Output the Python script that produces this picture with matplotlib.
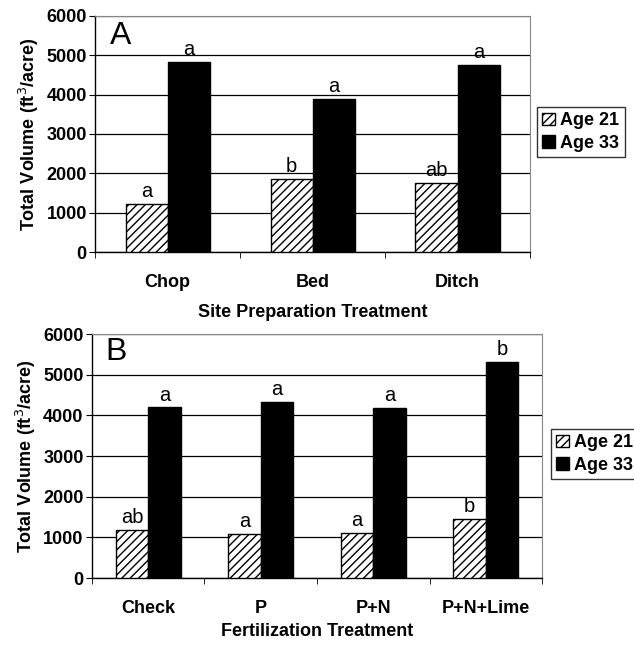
import matplotlib
matplotlib.use('Agg')
import matplotlib.pyplot as plt
import numpy as np
from matplotlib.patches import Patch

plt.rcParams['font.family'] = ['Liberation Sans', 'DejaVu Sans']
plt.rcParams['hatch.linewidth'] = 1.0

# panel A: site preparation
site_cats = ['Chop', 'Bed', 'Ditch']
site_age21 = [1220, 1860, 1750]
site_age33 = [4840, 3890, 4760]
site_lab21 = ['a', 'b', 'ab']
site_lab33 = ['a', 'a', 'a']

# panel B: fertilization
fert_cats = ['Check', 'P', 'P+N', 'P+N+Lime']
fert_age21 = [1180, 1080, 1110, 1450]
fert_age33 = [4200, 4330, 4180, 5310]
fert_lab21 = ['ab', 'a', 'a', 'b']
fert_lab33 = ['a', 'a', 'a', 'b']

series_names = ['Age 21', 'Age 33']
yticks = [0, 1000, 2000, 3000, 4000, 5000, 6000]


def panel(ax, cats, v21, v33, l21, l33, xlabel, letter, lpos, xlpad):
    x = np.arange(len(cats))
    w = 0.29
    ax.bar(x - w / 2, v21, w, color='white', edgecolor='black', hatch='////', linewidth=1.0, zorder=3)
    ax.bar(x + w / 2, v33, w, color='black', edgecolor='black', linewidth=1.0, zorder=3)
    for i in range(len(cats)):
        ax.annotate(l21[i], (x[i] - w / 2, v21[i]), xytext=(0, 2), textcoords='offset points',
                    ha='center', va='bottom', fontsize=14.5)
        ax.annotate(l33[i], (x[i] + w / 2, v33[i]), xytext=(0, 2), textcoords='offset points',
                    ha='center', va='bottom', fontsize=14.5)
    ax.set_xlim(-0.5, len(cats) - 0.5)
    ax.set_ylim(0, 6000)
    ax.set_yticks(yticks)
    ax.set_yticklabels([str(t) for t in yticks], fontsize=13, fontweight='bold')
    ax.set_xticks(x)
    ax.set_xticklabels(cats, fontsize=13, fontweight='bold')
    ax.set_xticks(np.arange(len(cats) + 1) - 0.5, minor=True)
    ax.tick_params(axis='x', which='major', length=0, pad=16)
    ax.tick_params(axis='x', which='minor', length=4, direction='out')
    ax.tick_params(axis='y', length=4, direction='out', pad=2)
    ax.yaxis.grid(True, color='black', linewidth=0.9, zorder=0)
    ax.set_axisbelow(True)
    for s in ['top', 'right']:
        ax.spines[s].set_color('#888888')
        ax.spines[s].set_linewidth(0.8)
    for s in ['left', 'bottom']:
        ax.spines[s].set_color('black')
        ax.spines[s].set_linewidth(1.0)
    ax.set_xlabel(xlabel, fontsize=13, fontweight='bold', labelpad=xlpad)
    ax.set_ylabel('Total Volume (ft$^3$/acre)', fontsize=13, fontweight='bold', labelpad=4)
    ax.text(lpos[0], lpos[1], letter, transform=ax.transAxes, fontsize=23, ha='left', va='center')


fig = plt.figure(figsize=(6.34, 6.47), dpi=100)
axA = fig.add_axes([0.150, 0.6105, 0.686, 0.365])
axB = fig.add_axes([0.145, 0.1066, 0.710, 0.377])

panel(axA, site_cats, site_age21, site_age33, site_lab21, site_lab33,
      'Site Preparation Treatment', 'A', (0.035, 0.915), 9)
panel(axB, fert_cats, fert_age21, fert_age33, fert_lab21, fert_lab33,
      'Fertilization Treatment', 'B', (0.03, 0.926), 4)

handles = [Patch(facecolor='white', edgecolor='black', hatch='////', label=series_names[0]),
           Patch(facecolor='black', edgecolor='black', label=series_names[1])]
for pos in [(537 / 634, 1 - 107 / 647), (551 / 634, 1 - 429 / 647)]:
    fig.legend(handles=handles, loc='upper left', bbox_to_anchor=pos, frameon=True,
               fancybox=False, edgecolor='black', prop={'weight': 'bold', 'size': 13},
               handlelength=0.7, handleheight=0.7, handletextpad=0.3, borderpad=0.3,
               labelspacing=0.3, borderaxespad=0)

fig.savefig('out.png', dpi=100)
